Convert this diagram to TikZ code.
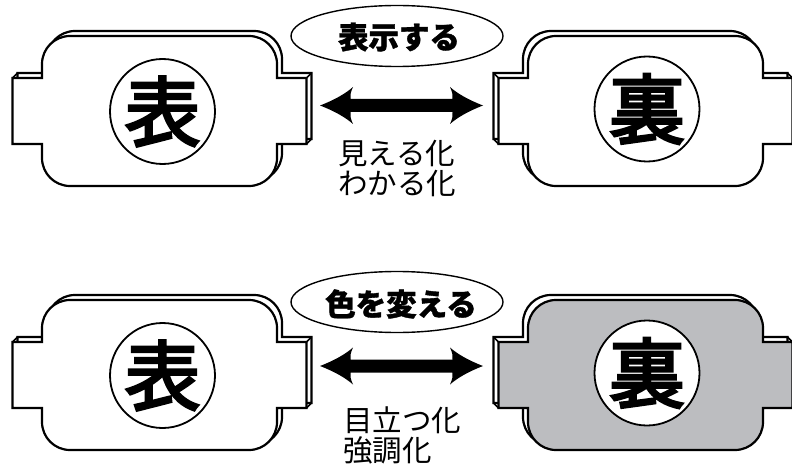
\documentclass[tikz,border=0pt]{standalone}
\usepackage{fontspec}
\setmainfont{Noto Sans CJK JP}
\definecolor{cardgray}{RGB}{188,189,192}
\usetikzlibrary{shapes.geometric}
\tikzset{
  cardline/.style={draw=black, line width=2.2pt, line join=miter},
  kanji/.style={circle, draw=black, line width=1.8pt, minimum size=105pt, inner sep=0pt, fill=white, font=\fontsize{76}{76}\selectfont\addfontfeature{FakeBold=3.5}},
  bubble/.style={ellipse, draw=black, line width=1.4pt, minimum width=212pt, minimum height=61pt, inner sep=0pt, fill=white},
  bubbletext/.style={font=\fontsize{30.5}{30}\selectfont\bfseries\addfontfeature{FakeBold=1.2}, inner sep=0pt},
  sidetext/.style={font=\fontsize{29.5}{30}\selectfont, align=left, anchor=west, inner sep=0pt},
  bigarrow/.style={fill=black, draw=none}
}
\newcommand{\cardshape}[1]{\path[#1] (0,42) -- (0,28) .. controls (0,12.54) and (12.54,0) .. (28,0) -- (207,0) .. controls (222.46,0) and (235,12.54) .. (235,28) -- (235,42) -- (264.5,42) -- (264.5,108) -- (235,108) -- (235,122) .. controls (235,137.46) and (222.46,150) .. (207,150) -- (28,150) .. controls (12.54,150) and (0,137.46) .. (0,122) -- (0,108) -- (-29.5,108) -- (-29.5,42) -- cycle;}
\newcommand{\card}[4]{%
  \begin{scope}[shift={(#1,#2)}]
    \begin{scope}[shift={(#3,-5)}]\cardshape{cardline, fill=white}\end{scope}
    \foreach \cx/\cy in {-29.5/42, -29.5/108, 264.5/42, 264.5/108}
      {\draw[line width=1.6pt] (\cx,\cy) -- ++(#3,-5);}
    \cardshape{cardline, fill=#4}
  \end{scope}}
\newcommand{\dblarrow}[3]{% name, x, y
  \coordinate (#1) at (#2,#3);
  \fill[bigarrow, shift={(#1)}] (-81.5,0) .. controls (-66,-6) and (-56,-12) .. (-48.5,-18.5) .. controls (-51,-13) and (-51.5,-10) .. (-51,-6.5) -- (51,-6.5) .. controls (51.5,-10) and (51,-13) .. (48.5,-18.5) .. controls (56,-12) and (66,-6) .. (81.5,0) .. controls (66,6) and (56,12) .. (48.5,18.5) .. controls (51,13) and (51.5,10) .. (51,6.5) -- (-51,6.5) .. controls (-51.5,10) and (-51,13) .. (-48.5,18.5) .. controls (-56,12) and (-66,6) .. (-81.5,0) -- cycle;}
\begin{document}
\begin{tikzpicture}[x=1pt, y=-1pt]
\useasboundingbox (0,0) rectangle (792,468);
% top row
\card{42}{36}{5}{white}
\card{528}{36}{-5}{white}
\node[kanji] (omote1) at (162.5,111.5) {表};
\node[kanji] (ura1) at (647,109) {裏};
\node[bubble] (b1) at (397,36) {};
\node[bubbletext] (t1) at (399,37) {表示する};
\dblarrow{a1}{401.5}{105.5}
\node[sidetext] (s1) at (338,168) {見える化\\わかる化};
% bottom row
\card{42}{300}{5}{white}
\card{528}{300}{-5}{cardgray}
\node[kanji] (omote2) at (162.5,375.5) {表};
\node[kanji] (ura2) at (647,373) {裏};
\node[bubble] (b2) at (397,302) {};
\node[bubbletext] (t2) at (401,304) {色を変える};
\dblarrow{a2}{401.5}{366}
\node[sidetext] (s2) at (343,435) {目立つ化\\強調化};
\end{tikzpicture}
\end{document}
